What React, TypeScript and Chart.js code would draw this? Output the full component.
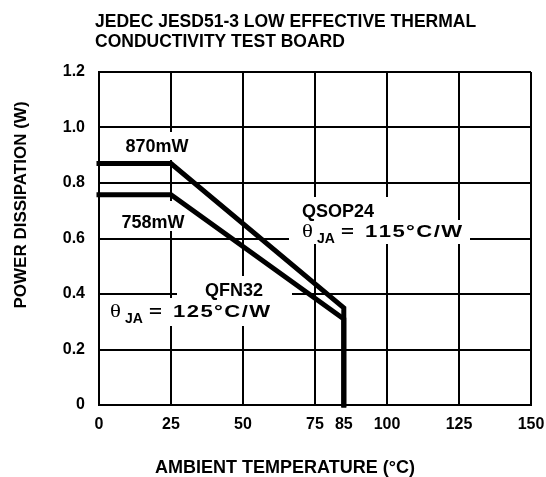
import React, { useEffect, useRef } from "react";
import { Chart, registerables } from "chart.js";

Chart.register(...registerables);

// ---- data ----
const temperatures = [0, 25, 85, 85];
const qsop24Power = [0.87, 0.87, 0.35, 0];
const qfn32Power = [0.758, 0.758, 0.31, 0];
const xTickValues = [0, 25, 50, 75, 85, 100, 125, 150];
const yTickValues = [0, 0.2, 0.4, 0.6, 0.8, 1.0, 1.2];
const yTickLabels = ["0", "0.2", "0.4", "0.6", "0.8", "1.0", "1.2"];
const titleLines = ["JEDEC JESD51-3 LOW EFFECTIVE THERMAL", "CONDUCTIVITY TEST BOARD"];
const xTitle = "AMBIENT TEMPERATURE (°C)";
const yTitle = "POWER DISSIPATION (W)";
const qsopLabel = "QSOP24";
const qfnLabel = "QFN32";
const qsopTheta = "115°C/W";
const qfnTheta = "125°C/W";
const qsopMax = "870mW";
const qfnMax = "758mW";

const SANS = '"Liberation Sans", Arial, Helvetica, sans-serif';
const SERIF = '"Liberation Serif", "Times New Roman", serif';

function drawScaled(ctx: CanvasRenderingContext2D, text: string, x: number, y: number, sx: number, spacing = 0) {
  ctx.save();
  ctx.translate(x, y);
  ctx.scale(sx, 1);
  ctx.textAlign = "left";
  let cx = 0;
  for (const c of Array.from(text)) {
    ctx.fillText(c, cx, 0);
    cx += ctx.measureText(c).width + spacing / sx;
  }
  ctx.restore();
}

function drawTheta(ctx: CanvasRenderingContext2D, x: number, base: number, value: string) {
  ctx.fillStyle = "#000";
  ctx.textBaseline = "alphabetic";
  ctx.font = `19px ${SERIF}`;
  drawScaled(ctx, "θ", x, base, 1.2);
  ctx.font = `bold 14px ${SANS}`;
  drawScaled(ctx, "JA", x + 15, base + 6, 1.0);
  ctx.font = `bold 17px ${SANS}`;
  drawScaled(ctx, "=", x + 39, base, 1.3);
  drawScaled(ctx, value, x + 63, base, 1.3, 1.4);
}

const annotationPlugin = {
  id: "annotations",
  beforeDatasetsDraw(chart: any) {
    const ctx: CanvasRenderingContext2D = chart.ctx;
    ctx.save();
    ctx.fillStyle = "#fff";
    const boxes = [
      [118, 132, 78, 28],
      [115, 201, 75, 30],
      [177, 276, 115, 24],
      [105, 298, 191, 28],
      [300, 197, 95, 25],
      [289, 220, 181, 24],
    ];
    boxes.forEach(([x, y, w, h]) => ctx.fillRect(x, y, w, h));
    ctx.restore();
  },
  afterDatasetsDraw(chart: any) {
    const ctx: CanvasRenderingContext2D = chart.ctx;
    ctx.save();
    ctx.fillStyle = "#000";
    ctx.textBaseline = "alphabetic";

    // title
    ctx.font = `bold 17.5px ${SANS}`;
    ctx.textAlign = "left";
    ctx.fillText(titleLines[0], 95, 27);
    ctx.fillText(titleLines[1], 95, 47);

    // x axis title
    ctx.font = `bold 18px ${SANS}`;
    ctx.textAlign = "center";
    ctx.fillText(xTitle, 285, 473);

    // y axis title
    ctx.save();
    ctx.translate(26, 205);
    ctx.rotate(-Math.PI / 2);
    ctx.font = `bold 17px ${SANS}`;
    ctx.textAlign = "center";
    ctx.fillText(yTitle, 0, 0);
    ctx.restore();

    // annotations
    ctx.font = `bold 18px ${SANS}`;
    ctx.textAlign = "center";
    ctx.fillText(qsopMax, 157, 152);
    ctx.fillText(qfnMax, 153, 228);
    ctx.fillText(qfnLabel, 234, 296);
    ctx.fillText(qsopLabel, 338, 217);

    drawTheta(ctx, 110, 317, qfnTheta);
    drawTheta(ctx, 302, 237, qsopTheta);

    ctx.restore();
  },
};

export default function App() {
  const canvasRef = useRef<HTMLCanvasElement | null>(null);

  useEffect(() => {
    const canvas = canvasRef.current;
    if (!canvas) return;
    const toPoints = (ys: number[]) => temperatures.map((x, i) => ({ x, y: ys[i] }));
    const lineStyle = {
      borderColor: "#000",
      backgroundColor: "#000",
      borderWidth: 5,
      borderCapStyle: "square" as const,
      borderJoinStyle: "miter" as const,
      pointRadius: 0,
      pointHoverRadius: 0,
      showLine: true,
      fill: false,
      tension: 0,
      clip: false as any,
    };
    const chart = new Chart(canvas, {
      type: "scatter",
      data: {
        datasets: [
          { label: qsopLabel, data: toPoints(qsop24Power), ...lineStyle },
          { label: qfnLabel, data: toPoints(qfn32Power), ...lineStyle },
        ],
      },
      options: {
        animation: false,
        responsive: true,
        maintainAspectRatio: false,
        events: [],
        layout: { padding: { left: 0, right: 15, top: 72, bottom: 0 } },
        plugins: {
          legend: { display: false },
          tooltip: { enabled: false },
          title: { display: false },
        },
        scales: {
          x: {
            type: "linear",
            min: 0,
            max: 150,
            afterBuildTicks: (scale: any) => {
              scale.ticks = xTickValues.map((v) => ({ value: v }));
            },
            afterFit: (scale: any) => {
              scale.height = 72;
              scale.paddingLeft = 0;
              scale.paddingRight = 0;
            },
            grid: {
              color: (c: any) => (c.tick && c.tick.value === 85 ? "rgba(0,0,0,0)" : "#000"),
              lineWidth: 2,
              drawTicks: false,
            },
            border: { display: true, color: "#000", width: 2 },
            ticks: {
              color: "#000",
              padding: 10,
              maxRotation: 0,
              autoSkip: false,
              font: { family: SANS, size: 16, weight: "bold" },
              callback: (v: any) => String(v),
            },
          },
          y: {
            type: "linear",
            min: 0,
            max: 1.2,
            afterBuildTicks: (scale: any) => {
              scale.ticks = yTickValues.map((v) => ({ value: v }));
            },
            afterFit: (scale: any) => {
              scale.width = 99;
              scale.paddingTop = 0;
              scale.paddingBottom = 0;
            },
            grid: { color: "#000", lineWidth: 2, drawTicks: false },
            border: { display: true, color: "#000", width: 2 },
            ticks: {
              color: "#000",
              padding: 14,
              autoSkip: false,
              font: { family: SANS, size: 16, weight: "bold" },
              callback: (v: any) => {
                const i = yTickValues.findIndex((t) => Math.abs(t - Number(v)) < 1e-9);
                return i >= 0 ? yTickLabels[i] : "";
              },
            },
          },
        },
      } as any,
      plugins: [annotationPlugin],
    });
    return () => chart.destroy();
  }, []);

  return (
    <div style={{ position: "absolute", left: 0, top: 0, width: 546, height: 477, background: "#fff" }}>
      <canvas ref={canvasRef} style={{ display: "block" }} />
    </div>
  );
}
